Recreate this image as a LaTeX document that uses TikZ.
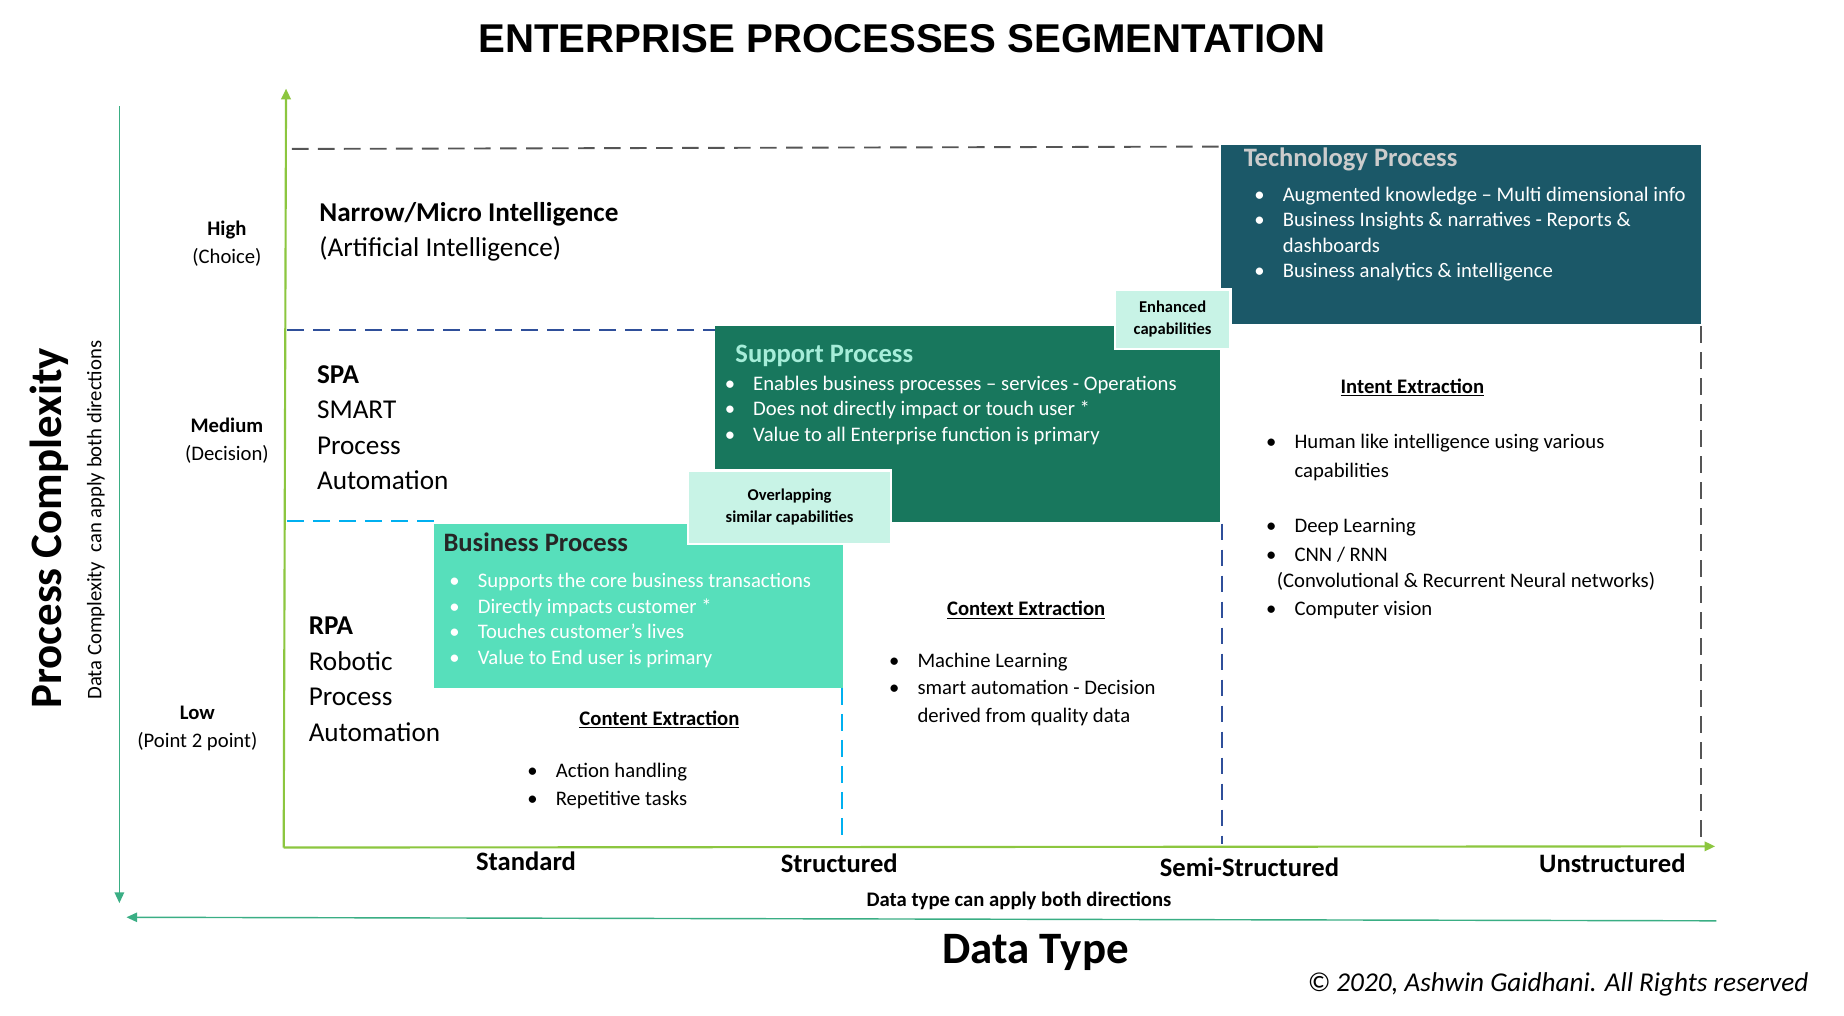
\documentclass[tikz,border=0pt]{standalone}
\usepackage{fontspec}
\setmainfont{Carlito}
\newfontfamily\arialf{Liberation Sans}
\usetikzlibrary{arrows.meta}
\definecolor{techc}{HTML}{1B5868}
\definecolor{supc}{HTML}{18775D}
\definecolor{busc}{HTML}{57DFBB}
\definecolor{lightc}{HTML}{C8F3E6}
\definecolor{axg}{HTML}{8CC63F}
\definecolor{tealc}{HTML}{3AAE84}
\definecolor{dblue}{HTML}{2F4F9A}
\definecolor{lblue}{HTML}{00B0F0}
\definecolor{dgray}{HTML}{555555}
\newcommand{\bl}[1]{\makebox[24pt][l]{\textbullet}#1}
\newcommand{\ind}{\hspace*{24pt}}
\tikzset{
 txt/.style={anchor=west,align=left,inner sep=0pt,font=\fontsize{17.5}{21.5}\selectfont},
 lvl/.style={align=center,inner sep=0pt,font=\fontsize{17.5}{24}\selectfont},
 big/.style={anchor=west,align=left,inner sep=0pt,font=\fontsize{23}{30}\selectfont},
 xl/.style={inner sep=0pt,font=\fontsize{22.5}{26}\selectfont\bfseries},
 btitle/.style={anchor=west,inner sep=0pt,font=\fontsize{22.5}{26}\selectfont\bfseries},
 tag/.style={fill=lightc,draw=white,line width=2pt,align=center,font=\fontsize{14}{19}\selectfont\bfseries},
 dsh/.style={dash pattern=on 14pt off 8pt,line width=1.6pt}
}
\begin{document}
\begin{tikzpicture}[x=1pt,y=-1pt]
\useasboundingbox (0,0) rectangle (1560,858.7);
\node[font=\arialf\fontsize{34}{36}\selectfont\bfseries] (title) at (763,33) {ENTERPRISE PROCESSES SEGMENTATION};
% boxes
\fill[techc] (1033,123) rectangle (1439,274);
\fill[supc] (605,276) rectangle (1032,442);
\fill[busc] (367,443) rectangle (713,582);
% dashed lines
\coordinate (g1) at (247,126); \coordinate (g2) at (1033,124);
\draw[dgray,dsh] (g1) -- (g2);
\coordinate (g3) at (1439,276); \coordinate (g4) at (1439,712);
\draw[dgray,dsh] (g3) -- (g4);
\coordinate (b1) at (243,279); \coordinate (b2) at (605,279);
\draw[dblue,dsh] (b1) -- (b2);
\coordinate (b3) at (1034,443); \coordinate (b4) at (1034,714);
\draw[dblue,dsh] (b3) -- (b4);
\coordinate (c1) at (243,441); \coordinate (c2) at (367,441);
\draw[lblue,dsh] (c1) -- (c2);
\coordinate (c3) at (712,582); \coordinate (c4) at (712,714);
\draw[lblue,dsh] (c3) -- (c4);
% axes
\coordinate (o) at (240,717); \coordinate (ytop) at (242,75); \coordinate (xend) at (1451,716);
\draw[axg,line width=1.8pt,-{Triangle[width=8pt,length=9pt]}] (o) -- (ytop);
\draw[axg,line width=1.8pt,-{Triangle[width=8pt,length=9pt]}] (o) -- (xend);
\coordinate (l1) at (101,90); \coordinate (l2) at (101,764);
\draw[tealc,line width=1.2pt,-{Triangle[width=8pt,length=9pt]}] (l1) -- (l2);
\coordinate (d1) at (1452,779); \coordinate (d2) at (107,776);
\draw[tealc,line width=1.2pt,-{Triangle[width=8pt,length=9pt]}] (d1) -- (d2);
% tags
\node[tag,minimum width=98pt,minimum height=50pt] (enh) at (992,270) {Enhanced\\capabilities};
\node[tag,minimum width=172pt,minimum height=62pt] (ovl) at (668,429) {Overlapping\\similar capabilities};
% box texts
\node[btitle,text=black!20] (tt) at (1052,135) {Technology Process};
\node[txt,text=white,anchor=north west] (tb) at (1061,158) {\bl{Augmented knowledge -- Multi dimensional info}\\\bl{Business Insights \& narratives - Reports \&}\\\ind dashboards\\\bl{Business analytics \& intelligence}};
\node[btitle,text=lightc!70!busc] (st) at (622,301) {Support Process};
\node[txt,text=white,anchor=north west] (sb) at (613,318) {\bl{Enables business processes -- services - Operations}\\\bl{Does not directly impact or touch user *}\\\bl{Value to all Enterprise function is primary}};
\node[btitle,text=black!85] (bt) at (375,459) {Business Process};
\node[txt,text=white,anchor=north west] (bb) at (380,485) {\bl{Supports the core business transactions}\\\bl{Directly impacts customer *}\\\bl{Touches customer's lives}\\\bl{Value to End user is primary}};
% level labels
\node[lvl] (high) at (192,206) {\textbf{High}\\(Choice)};
\node[lvl] (med) at (192,373) {\textbf{Medium}\\(Decision)};
\node[lvl] (low) at (167,616) {\textbf{Low}\\(Point 2 point)};
\node[big] (ai) at (270,196) {\textbf{Narrow/Micro Intelligence}\\(Artificial Intelligence)};
\node[big,anchor=north west] (spa) at (268,309) {\textbf{SPA}\\SMART\\Process\\Automation};
\node[big,anchor=north west] (rpa) at (261,522) {\textbf{RPA}\\Robotic\\Process\\Automation};
% extractions
\node[txt,font=\fontsize{17.5}{21}\selectfont\bfseries] (ce) at (490,609) {\underline{Content Extraction}};
\node[txt,anchor=north west,font=\fontsize{17.5}{24}\selectfont] (cb) at (446,645) {\bl{Action handling}\\\bl{Repetitive tasks}};
\node[txt,font=\fontsize{17.5}{21}\selectfont\bfseries] (cx) at (801,516) {\underline{Context Extraction}};
\node[txt,anchor=north west,font=\fontsize{17.5}{23.5}\selectfont] (xb) at (752,552) {\bl{Machine Learning}\\\bl{smart automation - Decision}\\\ind derived from quality data};
\node[txt,font=\fontsize{17.5}{21}\selectfont\bfseries] (ie) at (1134,328) {\underline{Intent Extraction}};
\node[txt] (i1) at (1071,375) {\bl{Human like intelligence using various}};
\node[txt] (i2) at (1071,399) {\ind capabilities};
\node[txt] (i3) at (1071,446) {\bl{Deep Learning}};
\node[txt] (i4) at (1071,469) {\bl{CNN / RNN}};
\node[txt] (cnn) at (1080,492) {(Convolutional \& Recurrent Neural networks)};
\node[txt] (cv) at (1071,516) {\bl{Computer vision}};
% axis labels
\node[xl] (std) at (445,729) {Standard};
\node[xl] (str) at (710,730) {Structured};
\node[xl] (semi) at (1057,734) {Semi-Structured};
\node[xl] (uns) at (1364,730) {Unstructured};
\node[inner sep=0pt,font=\fontsize{17.5}{20}\selectfont\bfseries] (dta) at (862,762) {Data type can apply both directions};
\node[inner sep=0pt,font=\fontsize{38}{40}\selectfont\bfseries] (dt) at (876,806) {Data Type};
\node[inner sep=0pt,rotate=90,font=\fontsize{38}{40}\selectfont\bfseries] (pc) at (42,447) {Process Complexity};
\node[inner sep=0pt,rotate=90,font=\fontsize{17.5}{20}\selectfont] (dc) at (81,440) {Data Complexity\ \ can apply both directions};
\node[inner sep=0pt,font=\fontsize{23}{26}\selectfont\itshape] (cp) at (1318,833) {© 2020, Ashwin Gaidhani. All Rights reserved};
\end{tikzpicture}
\end{document}
